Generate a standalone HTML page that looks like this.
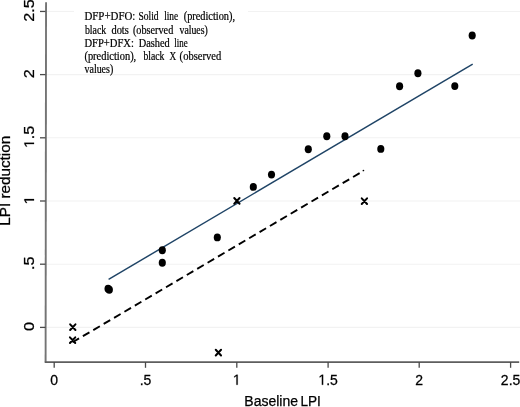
<!DOCTYPE html>
<html><head><meta charset="utf-8">
<style>
html,body{margin:0;padding:0;background:#fff;width:520px;height:407px;overflow:hidden}
svg{display:block;will-change:transform}
.sans{font-family:"Liberation Sans",sans-serif;fill:#000;stroke:#000;stroke-width:0.25px}
.sans path{vector-effect:non-scaling-stroke}
.serif{font-family:"Liberation Serif",serif;fill:#000}
</style></head>
<body>
<svg width="520" height="407" viewBox="0 0 520 407">
<rect width="520" height="407" fill="#fff"/>
<g stroke="#f2f2f2" stroke-width="1.1">
<line x1="46.3" y1="74.6" x2="520" y2="74.6"/>
<line x1="46.3" y1="137.8" x2="520" y2="137.8"/>
<line x1="46.3" y1="201.0" x2="520" y2="201.0"/>
<line x1="46.3" y1="264.2" x2="520" y2="264.2"/>
<line x1="46.3" y1="327.4" x2="520" y2="327.4"/>
<line x1="46.3" y1="11.45" x2="74" y2="11.45"/>
<line x1="248" y1="11.45" x2="520" y2="11.45"/>
</g>
<line x1="46.05" y1="2.2" x2="45.6" y2="362.6" stroke="#747474" stroke-width="1.9"/>
<line x1="44.8" y1="362.1" x2="519.2" y2="362.1" stroke="#5e5e5e" stroke-width="1.9"/>
<g stroke="#4a4a4a" stroke-width="1.3">
<line x1="40" y1="327.4" x2="45.5" y2="327.4"/>
<line x1="40" y1="264.2" x2="45.5" y2="264.2"/>
<line x1="40" y1="201.0" x2="45.5" y2="201.0"/>
<line x1="40" y1="137.8" x2="45.5" y2="137.8"/>
<line x1="40" y1="74.6" x2="45.5" y2="74.6"/>
<line x1="40" y1="11.45" x2="45.5" y2="11.45"/>
<line x1="54.2" y1="362" x2="54.2" y2="367.8"/>
<line x1="145.5" y1="362" x2="145.5" y2="367.8"/>
<line x1="236.8" y1="362" x2="236.8" y2="367.8"/>
<line x1="328.1" y1="362" x2="328.1" y2="367.8"/>
<line x1="419.2" y1="362" x2="419.2" y2="367.8"/>
<line x1="510.6" y1="362" x2="510.6" y2="367.8"/>
</g>
<g class="sans" font-size="14">
<text transform="translate(50.31,384.80) scale(1,1.05)">0</text>
<text transform="translate(139.66,384.80) scale(1,1.05)">.5</text>
<path d="M515 0V1237L197 1010V1180L530 1409H696V0Z" transform="translate(232.91,384.80) scale(0.006836,-0.007178)"/>
<path d="M515 0V1237L197 1010V1180L530 1409H696V0Z" transform="translate(318.37,384.80) scale(0.006836,-0.007178)"/>
<text transform="translate(326.16,384.80) scale(1,1.05)">.5</text>
<text transform="translate(415.31,384.80) scale(1,1.05)">2</text>
<text transform="translate(500.87,384.80) scale(1,1.05)">2.5</text>
<g transform="translate(34,326.50) rotate(-90) scale(1.16,1)">
<text x="-3.89" y="0.00">0</text>
</g>
<g transform="translate(34,263.30) rotate(-90) scale(1.16,1)">
<text x="-5.84" y="0.00">.5</text>
</g>
<g transform="translate(34,200.10) rotate(-90) scale(1.16,1)">
<path d="M515 0V1237L197 1010V1180L530 1409H696V0Z" transform="translate(-3.89,0.00) scale(0.006836,-0.006836)"/>
</g>
<g transform="translate(34,136.90) rotate(-90) scale(1.16,1)">
<path d="M515 0V1237L197 1010V1180L530 1409H696V0Z" transform="translate(-9.73,0.00) scale(0.006836,-0.006836)"/>
<text x="-1.94" y="0.00">.5</text>
</g>
<g transform="translate(34,73.70) rotate(-90) scale(1.16,1)">
<text x="-3.89" y="0.00">2</text>
</g>
<g transform="translate(34,10.55) rotate(-90) scale(1.16,1)">
<text x="-9.73" y="0.00">2.5</text>
</g>
<text x="244.3" y="405.7">Baseline</text>
<text x="300.4" y="405.7" textLength="20.45" lengthAdjust="spacingAndGlyphs">LPI</text>
<text text-anchor="middle" transform="translate(10,180.75) rotate(-90) scale(1.09,1)">LPI reduction</text>
</g>
<g class="serif" font-size="11" stroke="#000" stroke-width="0.2">
<text transform="translate(84.40,19.8) scale(1,1.07)" textLength="50.93" lengthAdjust="spacingAndGlyphs">DFP+DFO:</text>
<text transform="translate(138.49,19.8) scale(1,1.07)" textLength="20.12" lengthAdjust="spacingAndGlyphs">Solid</text>
<text transform="translate(164.13,19.8) scale(1,1.07)" textLength="14.01" lengthAdjust="spacingAndGlyphs">line</text>
<text transform="translate(183.73,19.8) scale(1,1.07)" textLength="51.30" lengthAdjust="spacingAndGlyphs">(prediction),</text>
<text transform="translate(84.90,33.5) scale(1,1.07)" textLength="21.32" lengthAdjust="spacingAndGlyphs">black</text>
<text transform="translate(111.42,33.5) scale(1,1.07)" textLength="17.40" lengthAdjust="spacingAndGlyphs">dots</text>
<text transform="translate(132.94,33.5) scale(1,1.07)" textLength="40.33" lengthAdjust="spacingAndGlyphs">(observed</text>
<text transform="translate(179.50,33.5) scale(1,1.07)" textLength="28.21" lengthAdjust="spacingAndGlyphs">values)</text>
<text transform="translate(84.41,46.6) scale(1,1.07)" textLength="49.50" lengthAdjust="spacingAndGlyphs">DFP+DFX:</text>
<text transform="translate(138.82,46.6) scale(1,1.07)" textLength="30.97" lengthAdjust="spacingAndGlyphs">Dashed</text>
<text transform="translate(174.34,46.6) scale(1,1.07)" textLength="13.38" lengthAdjust="spacingAndGlyphs">line</text>
<text transform="translate(84.43,59.8) scale(1,1.07)" textLength="51.81" lengthAdjust="spacingAndGlyphs">(prediction),</text>
<text transform="translate(143.40,59.8) scale(1,1.07)" textLength="21.02" lengthAdjust="spacingAndGlyphs">black</text>
<text transform="translate(169.53,59.8) scale(1,1.07)" textLength="6.67" lengthAdjust="spacingAndGlyphs">X</text>
<text transform="translate(179.62,59.8) scale(1,1.07)" textLength="41.55" lengthAdjust="spacingAndGlyphs">(observed</text>
<text transform="translate(84.50,72.9) scale(1,1.07)" textLength="28.72" lengthAdjust="spacingAndGlyphs">values)</text>
</g>
<line x1="108.6" y1="279.4" x2="472.7" y2="64.2" stroke="#1f4466" stroke-width="1.45"/>
<line x1="72.5" y1="342.3" x2="363.5" y2="170.9" stroke="#000" stroke-width="1.9" stroke-dasharray="7.6 4.46"/>
<circle cx="363.4" cy="170.5" r="0.85" fill="#000"/>
<g fill="#000">
<ellipse cx="108.1" cy="288.8" rx="3.5999999999999996" ry="3.9499999999999997"/>
<ellipse cx="109.3" cy="289.7" rx="3.5999999999999996" ry="3.9499999999999997"/>
<ellipse cx="162.3" cy="250.3" rx="3.55" ry="3.95"/>
<ellipse cx="162.3" cy="262.8" rx="3.55" ry="3.95"/>
<ellipse cx="217.3" cy="237.4" rx="3.55" ry="3.95"/>
<ellipse cx="253.3" cy="186.9" rx="3.55" ry="3.95"/>
<ellipse cx="271.5" cy="174.6" rx="3.55" ry="3.95"/>
<ellipse cx="308.3" cy="149.2" rx="3.55" ry="3.95"/>
<ellipse cx="326.8" cy="136.2" rx="3.55" ry="3.95"/>
<ellipse cx="345" cy="136.2" rx="3.55" ry="3.95"/>
<ellipse cx="380.8" cy="148.9" rx="3.55" ry="3.95"/>
<ellipse cx="399.6" cy="86.2" rx="3.55" ry="3.95"/>
<ellipse cx="417.9" cy="73.3" rx="3.55" ry="3.95"/>
<ellipse cx="454.8" cy="86.1" rx="3.55" ry="3.95"/>
<ellipse cx="472.2" cy="35.5" rx="3.55" ry="3.95"/>
</g>
<g stroke="#000" stroke-width="2.0" stroke-linecap="round" fill="none">
<path d="M70.15,324.35 L75.45,330.05 M75.45,324.35 L70.15,330.05"/>
<path d="M69.95,337.35 L75.25,343.05 M75.25,337.35 L69.95,343.05"/>
<path d="M215.75,349.75 L221.05,355.45 M221.05,349.75 L215.75,355.45"/>
<path d="M234.25,198.05 L239.55,203.75 M239.55,198.05 L234.25,203.75"/>
<path d="M361.75,198.35 L367.05,204.05 M367.05,198.35 L361.75,204.05"/>
</g>
</svg>
</body></html>
